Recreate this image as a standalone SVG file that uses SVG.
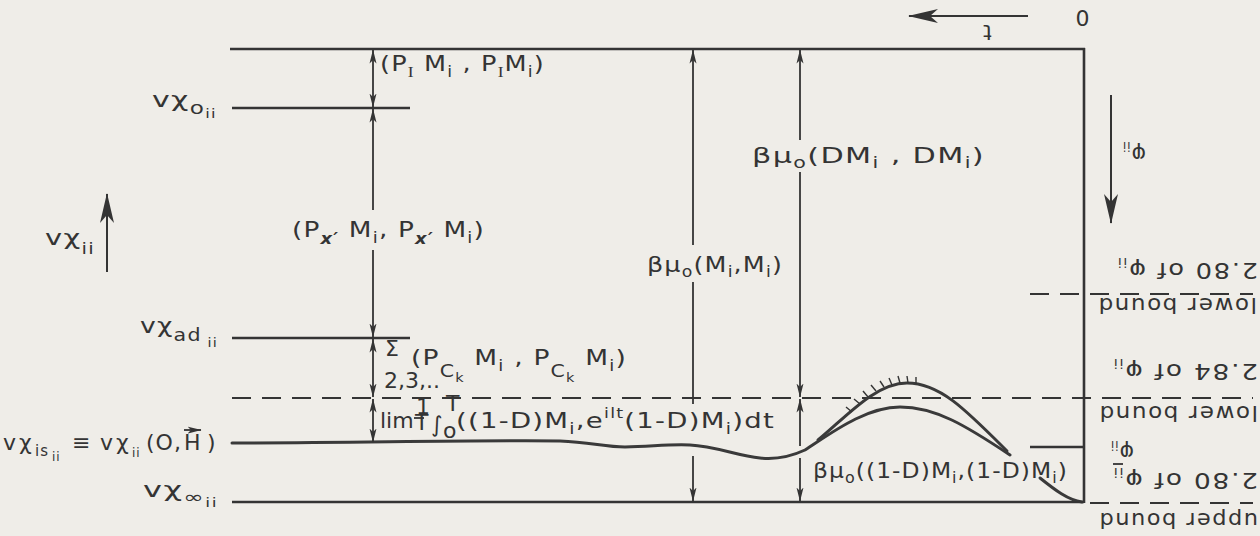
<svg xmlns="http://www.w3.org/2000/svg" width="1260" height="536" viewBox="0 0 1260 536">
<defs>
<style>
text{font-family:"DejaVu Sans","Liberation Sans",sans-serif;fill:#343434;font-size:22px;letter-spacing:1px}
.ln{stroke:#343434;stroke-width:2.6;fill:none}
.cv{stroke:#3a3a3a;stroke-width:3;fill:none;stroke-linecap:round}
.ds{stroke:#343434;stroke-width:2;fill:none;stroke-dasharray:19 11}
.dm{stroke:#343434;stroke-width:1.8;fill:none}
.a2{marker-start:url(#ah);marker-end:url(#ah)}
.as{marker-start:url(#ah)}
.ae{marker-end:url(#ah)}
.big{stroke:#343434;stroke-width:2;fill:none;marker-end:url(#bh)}
.sb{font-size:15px}
.ss{font-size:12px}
.it{font-style:italic;font-weight:bold}
.sf{font-family:"Liberation Serif",serif}
.ht{stroke:#343434;stroke-width:1.4}
.rt{font-size:22px;letter-spacing:1.5px}
.sm{letter-spacing:0}
</style>
<marker id="ah" viewBox="0 0 14 8" refX="13.5" refY="4" markerWidth="14" markerHeight="8" markerUnits="userSpaceOnUse" orient="auto-start-reverse"><path d="M0,0.5 L14,4 L0,7.5 L3.5,4 z" fill="#343434"/></marker>
<marker id="bh" viewBox="0 0 30 14" refX="29" refY="7" markerWidth="30" markerHeight="14" markerUnits="userSpaceOnUse" orient="auto"><path d="M0,0 L30,7 L0,14 L8,7 z" fill="#343434"/></marker>
</defs>
<rect width="1260" height="536" fill="#efede8"/>

<g id="frame">
<line class="ln" x1="230" y1="49" x2="1085" y2="49"/>
<line class="ln" x1="1084" y1="48" x2="1084" y2="503"/>
<line class="ln" x1="1030" y1="447" x2="1084" y2="447"/>
</g>

<g id="level-chi-o">
<line class="ln" x1="232" y1="108" x2="410" y2="108"/>
<text x="152" y="107" textLength="65" lengthAdjust="spacingAndGlyphs">vχ<tspan dy="7" font-size="17">o</tspan><tspan dy="4" class="ss">ii</tspan></text>
</g>

<g id="level-chi-ad">
<line class="ln" x1="232" y1="338" x2="410" y2="338"/>
<text x="140" y="333" textLength="78" lengthAdjust="spacingAndGlyphs">vχ<tspan dy="8" font-size="17">ad</tspan><tspan dy="6" class="ss"> ii</tspan></text>
</g>

<g id="level-lower-284">
<line class="ds" x1="232" y1="398" x2="1253" y2="398"/>
</g>

<g id="level-chi-is">
<path class="cv" d="M232,443 C350,443 470,440 560,441 C590,442 605,447 625,447 C650,447 665,444 690,445 C715,446 738,456 760,458 C778,460 792,456 805,450 C830,434 865,407 900,407 C935,407 965,425 1010,455"/>
<path class="cv" d="M818,440 C845,418 875,383 907,383 C940,383 966,410 1007,451"/>
<path class="cv" d="M1040,478 C1055,490 1068,500 1082,502"/>
<g class="ht">
<line x1="852" y1="412" x2="846" y2="407"/>
<line x1="860" y1="404" x2="854" y2="399"/>
<line x1="868" y1="397" x2="863" y2="391"/>
<line x1="876" y1="391" x2="871" y2="385"/>
<line x1="884" y1="387" x2="880" y2="381"/>
<line x1="892" y1="385" x2="889" y2="378"/>
<line x1="900" y1="383" x2="898" y2="376"/>
<line x1="908" y1="383" x2="907" y2="376"/>
<line x1="916" y1="384" x2="916" y2="377"/>
</g>
<text y="450"><tspan x="3">v</tspan><tspan x="19">χ</tspan><tspan x="35" y="456" class="sb">is</tspan><tspan x="52" y="461" class="ss">ii</tspan><tspan x="72" y="450">≡</tspan><tspan x="100">v</tspan><tspan x="116">χ</tspan><tspan x="132" y="457" class="ss">ii</tspan><tspan x="146" y="450">(O,</tspan><tspan x="184">H</tspan><tspan x="207">)</tspan></text>
<line class="dm" x1="184" y1="430" x2="201" y2="430" marker-end="url(#ah)"/>
</g>

<g id="level-chi-inf">
<line class="ln" x1="232" y1="502" x2="1084" y2="502"/>
<text x="143" y="497" textLength="75" lengthAdjust="spacingAndGlyphs">vχ<tspan dy="6" font-size="17">∞</tspan><tspan dy="4" class="ss">ii</tspan></text>
</g>

<g id="axis-chi">
<line class="big" x1="107" y1="272" x2="107" y2="194"/>
<text x="45" y="245" textLength="50" lengthAdjust="spacingAndGlyphs">vχ<tspan dy="9" class="sb">ii</tspan></text>
</g>

<g id="axis-t">
<line class="big" x1="1028" y1="16" x2="909" y2="16"/>
<g transform="translate(987,25) rotate(180)"><text x="0" y="0" text-anchor="middle" font-size="18">t</text></g>
<g transform="translate(1082,10) rotate(180)"><text x="0" y="0" text-anchor="middle">0</text></g>
</g>

<g id="axis-phi">
<line class="big" x1="1111" y1="95" x2="1111" y2="223"/>
<g transform="translate(1134,147) rotate(180)"><text x="-12" y="0">φ<tspan dy="5" class="ss">ii</tspan></text></g>
</g>

<g id="bound-lower-280">
<line class="ds" x1="1030" y1="294" x2="1253" y2="294"/>
<g transform="translate(1187,263) rotate(180)"><text class="rt" x="-71" y="0" textLength="142" lengthAdjust="spacingAndGlyphs">2.80 of φ<tspan dy="5" class="ss">ii</tspan></text></g>
<g transform="translate(1177,298) rotate(180)"><text class="rt" x="-80" y="0" textLength="160" lengthAdjust="spacingAndGlyphs">lower bound</text></g>
</g>

<g id="bound-lower-284">
<g transform="translate(1185,364) rotate(180)"><text class="rt" x="-73" y="0" textLength="146" lengthAdjust="spacingAndGlyphs">2.84 of φ<tspan dy="5" class="ss">ii</tspan></text></g>
<g transform="translate(1178,406) rotate(180)"><text class="rt" x="-80" y="0" textLength="160" lengthAdjust="spacingAndGlyphs">lower bound</text></g>
</g>

<g id="phi-bar">
<g transform="translate(1125,445) rotate(180)"><text x="-9" y="0" font-size="18">φ<tspan dy="4" class="ss">ii</tspan></text></g>
<line class="dm" x1="1113" y1="464" x2="1123" y2="464"/>
</g>

<g id="bound-upper-280">
<line class="ds" x1="1090" y1="503" x2="1253" y2="503"/>
<g transform="translate(1185,473) rotate(180)"><text class="rt" x="-73" y="0" textLength="146" lengthAdjust="spacingAndGlyphs">2.80 of φ<tspan dy="5" class="ss">ii</tspan></text></g>
<g transform="translate(1178,513) rotate(180)"><text class="rt" x="-80" y="0" textLength="160" lengthAdjust="spacingAndGlyphs">upper bound</text></g>
</g>

<g id="connectors">
<line class="dm a2" x1="373" y1="50" x2="373" y2="107"/>
<line class="dm as" x1="373" y1="109" x2="373" y2="210"/>
<line class="dm ae" x1="373" y1="250" x2="373" y2="337"/>
<line class="dm a2" x1="373" y1="339" x2="373" y2="397"/>
<line class="dm a2" x1="373" y1="399" x2="373" y2="442"/>
<line class="dm as" x1="693" y1="50" x2="693" y2="245"/>
<line class="dm" x1="693" y1="282" x2="693" y2="404"/>
<line class="dm ae" x1="693" y1="456" x2="693" y2="501"/>
<line class="dm as" x1="800" y1="50" x2="800" y2="140"/>
<line class="dm ae" x1="800" y1="172" x2="800" y2="397"/>
<line class="dm as" x1="800" y1="399" x2="800" y2="446"/>
<line class="dm ae" x1="800" y1="458" x2="800" y2="501"/>
</g>

<g id="label-PI">
<text x="380" y="71" textLength="165" lengthAdjust="spacingAndGlyphs">(P<tspan dy="6" class="sb sf">I</tspan><tspan dy="-6"> M</tspan><tspan dy="6" class="sb">i</tspan><tspan dy="-6"> , P</tspan><tspan dy="6" class="sb sf">I</tspan><tspan dy="-6">M</tspan><tspan dy="6" class="sb">i</tspan><tspan dy="-6">)</tspan></text>
</g>

<g id="label-Px">
<text x="292" y="237" textLength="193" lengthAdjust="spacingAndGlyphs">(P<tspan dy="7" class="sb it">x′</tspan><tspan dy="-7"> M</tspan><tspan dy="6" class="sb">i</tspan><tspan dy="-6">, P</tspan><tspan dy="7" class="sb it">x′</tspan><tspan dy="-7"> M</tspan><tspan dy="6" class="sb">i</tspan><tspan dy="-6">)</tspan></text>
</g>

<g id="label-PC">
<text x="385" y="356" font-size="16">Σ</text>
<text class="sm" x="384" y="388" font-size="14">2,3,..</text>
<text x="411" y="365" textLength="216" lengthAdjust="spacingAndGlyphs">(P<tspan dy="12" font-size="17">C</tspan><tspan dy="5" class="ss">k</tspan><tspan dy="-17"> M</tspan><tspan dy="6" class="sb">i</tspan><tspan dy="-6"> , P</tspan><tspan dy="12" font-size="17">C</tspan><tspan dy="5" class="ss">k</tspan><tspan dy="-17"> M</tspan><tspan dy="6" class="sb">i</tspan><tspan dy="-6">)</tspan></text>
</g>

<g id="label-lim">
<text class="sm" x="380" y="428" font-size="21">lim</text>
<text class="sm" x="416" y="414" font-size="9">1</text>
<line class="dm" x1="414" y1="418" x2="424" y2="418" stroke-width="1.2"/>
<text class="sm" x="415" y="430" font-size="9">T</text>
<text class="sm" x="431" y="432" font-size="24">∫</text>
<text class="sm" x="443" y="438" font-size="12">o</text>
<text class="sm" x="446" y="411" font-size="13">T</text>
<text x="456" y="428" textLength="319" lengthAdjust="spacingAndGlyphs">((1-D)M<tspan dy="6" class="sb">i</tspan><tspan dy="-6">,e</tspan><tspan dy="-10" font-size="14">ilt</tspan><tspan dy="10">(1-D)M</tspan><tspan dy="6" class="sb">i</tspan><tspan dy="-6">)dt</tspan></text>
</g>

<g id="label-bmu-MM">
<text x="647" y="272" textLength="136" lengthAdjust="spacingAndGlyphs">βμ<tspan dy="5" class="sb">o</tspan><tspan dy="-5">(M</tspan><tspan dy="5" class="sb">i</tspan><tspan dy="-5">,M</tspan><tspan dy="5" class="sb">i</tspan><tspan dy="-5">)</tspan></text>
</g>

<g id="label-bmu-DM">
<text x="752" y="163" textLength="233" lengthAdjust="spacingAndGlyphs">βμ<tspan dy="5" class="sb">o</tspan><tspan dy="-5">(DM</tspan><tspan dy="5" class="sb">i</tspan><tspan dy="-5"> , DM</tspan><tspan dy="5" class="sb">i</tspan><tspan dy="-5">)</tspan></text>
</g>

<g id="label-bmu-1D">
<text x="813" y="478" textLength="255" lengthAdjust="spacingAndGlyphs">βμ<tspan dy="5" class="sb">o</tspan><tspan dy="-5">((1-D)M</tspan><tspan dy="5" class="sb">i</tspan><tspan dy="-5">,(1-D)M</tspan><tspan dy="5" class="sb">i</tspan><tspan dy="-5">)</tspan></text>
</g>
</svg>
